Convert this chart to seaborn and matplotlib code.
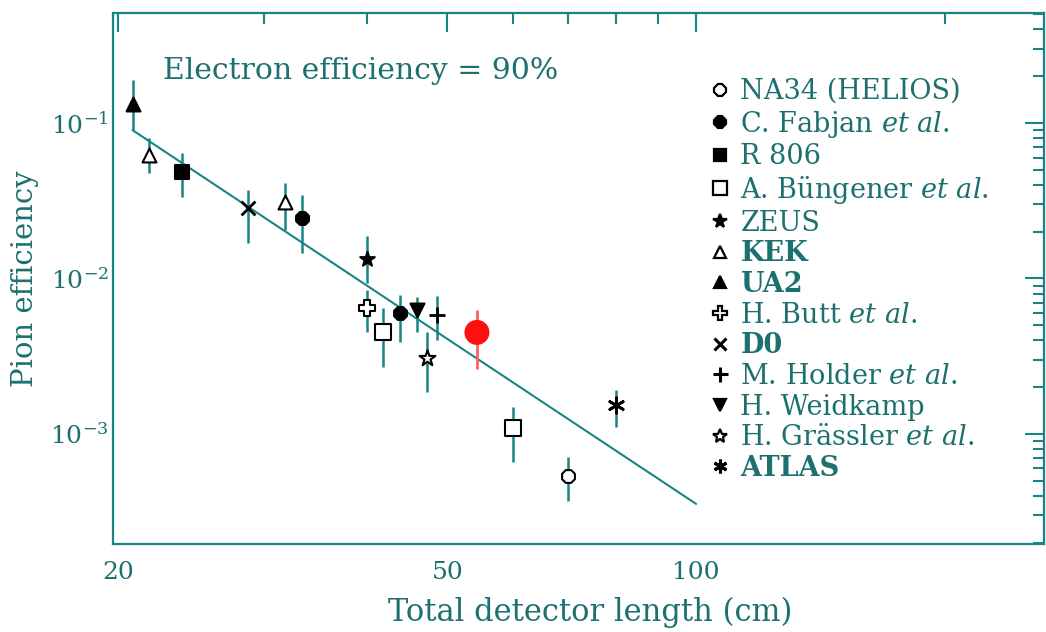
import numpy as np
import pandas as pd
import matplotlib
matplotlib.use("Agg")
import matplotlib.pyplot as plt
import seaborn as sns
from matplotlib.lines import Line2D
from matplotlib.ticker import FixedLocator, FixedFormatter, NullFormatter

# ---------------- data ----------------
experiments = ["NA34 (HELIOS)", "C. Fabjan et al.", "R 806", "A. Büngener et al.",
               "ZEUS", "KEK", "UA2", "H. Butt et al.", "D0", "M. Holder et al.",
               "H. Weidkamp", "H. Grässler et al.", "ATLAS"]

point_exp = ["UA2", "KEK", "R 806", "D0", "KEK", "C. Fabjan et al.", "ZEUS",
             "H. Butt et al.", "A. Büngener et al.", "C. Fabjan et al.", "H. Weidkamp",
             "H. Grässler et al.", "M. Holder et al.", "A. Büngener et al.",
             "NA34 (HELIOS)", "ATLAS"]
length_cm = [20.8, 21.8, 23.9, 28.7, 31.8, 33.4, 40.0, 40.0, 41.8, 43.8, 45.9,
             47.3, 48.6, 60.0, 70.0, 80.0]
pion_eff = [0.132, 0.0623, 0.0484, 0.0284, 0.031, 0.0245, 0.0133, 0.0065, 0.0045,
            0.0060, 0.0063, 0.0031, 0.0058, 0.00109, 0.00054, 0.00154]
eff_low = [0.090, 0.0477, 0.0334, 0.0169, 0.0205, 0.0146, 0.0094, 0.0045, 0.0027,
           0.0039, 0.0045, 0.00186, 0.0040, 0.00066, 0.00037, 0.00111]
eff_high = [0.189, 0.080, 0.0641, 0.0371, 0.0411, 0.0344, 0.0188, 0.0084, 0.0065,
            0.0078, 0.0076, 0.0045, 0.0077, 0.00149, 0.00071, 0.00192]

# highlighted (red) measurement
red_x = [54.3]
red_y = [0.0045]
red_low = [0.0026]
red_high = [0.0063]

# fitted line
fit_x = [20.8, 100.0]
fit_y = [0.090, 0.000355]

x_ticks = [20, 50, 100]
x_ticklabels = ["20", "50", "100"]
y_ticks = [1e-3, 1e-2, 1e-1]
y_ticklabels = [r"$10^{-3}$", r"$10^{-2}$", r"$10^{-1}$"]

legend_labels = ["NA34 (HELIOS)", r"C. Fabjan $\mathit{et\ al.}$", "R 806",
                 r"A. Büngener $\mathit{et\ al.}$", "ZEUS", "KEK", "UA2",
                 r"H. Butt $\mathit{et\ al.}$", "D0", r"M. Holder $\mathit{et\ al.}$",
                 "H. Weidkamp", r"H. Grässler $\mathit{et\ al.}$", "ATLAS"]
bold_labels = {"KEK", "UA2", "D0", "ATLAS"}

# ---------------- styles ----------------
TEAL = "#178585"
TEXT = "#1c7070"
asterisk = (6, 2, 0)
styles = {
    "NA34 (HELIOS)": dict(marker="8", face="white", size=10),
    "C. Fabjan et al.": dict(marker="8", face="black", size=10),
    "R 806": dict(marker="s", face="black", size=10),
    "A. Büngener et al.": dict(marker="s", face="white", size=11),
    "ZEUS": dict(marker="*", face="black", size=11),
    "KEK": dict(marker="^", face="white", size=10),
    "UA2": dict(marker="^", face="black", size=10),
    "H. Butt et al.": dict(marker="P", face="white", size=11),
    "D0": dict(marker="x", face="black", size=10),
    "M. Holder et al.": dict(marker="+", face="black", size=12),
    "H. Weidkamp": dict(marker="v", face="black", size=10),
    "H. Grässler et al.": dict(marker="*", face="white", size=12),
    "ATLAS": dict(marker=asterisk, face="black", size=11),
}

sns.set_theme(style="white")
plt.rcParams["font.family"] = ["DejaVu Serif"]
plt.rcParams["mathtext.fontset"] = "custom"
plt.rcParams["mathtext.rm"] = "DejaVu Serif"
plt.rcParams["mathtext.it"] = "DejaVu Serif:italic"
plt.rcParams["mathtext.bf"] = "DejaVu Serif:bold"

df = pd.DataFrame({"exp": point_exp, "x": length_cm, "y": pion_eff,
                   "lo": eff_low, "hi": eff_high})

fig = plt.figure(figsize=(10.46, 6.32), dpi=100)
ax = fig.add_axes([113 / 1046, 88 / 632, (1044 - 113) / 1046, (544 - 13) / 632])
ax.set_xscale("log")
ax.set_yscale("log")

# fit line
sns.lineplot(x=fit_x, y=fit_y, ax=ax, color=TEAL, lw=1.5, zorder=2)

# error bars
ax.errorbar(df["x"], df["y"], yerr=[df["y"] - df["lo"], df["hi"] - df["y"]],
            fmt="none", ecolor=TEAL, elinewidth=1.8, capsize=0, zorder=3)

# markers
for exp, sub in df.groupby("exp", sort=False):
    st = styles[exp]
    unfilled = st["marker"] in ("x", "+", asterisk)
    kw = dict(marker=st["marker"], s=st["size"] ** 2, linewidth=2.0 if unfilled else 1.5,
              zorder=4)
    if unfilled:
        kw["color"] = "black"
    else:
        kw["facecolor"] = st["face"]
        kw["edgecolor"] = "black"
    sns.scatterplot(data=sub, x="x", y="y", ax=ax, legend=False, **kw)

# red measurement
ax.errorbar(red_x, red_y, yerr=[[red_y[0] - red_low[0]], [red_high[0] - red_y[0]]],
            fmt="none", ecolor="#ff6060", elinewidth=2, capsize=0, zorder=3)
sns.scatterplot(x=red_x, y=red_y, ax=ax, color="#ff1010", s=18 ** 2,
                edgecolor="none", zorder=5, legend=False)

# axes limits & ticks
ax.set_xlim(19.7, 263.6)
ax.set_ylim(1.96e-4, 0.51)
ax.xaxis.set_major_locator(FixedLocator(x_ticks))
ax.xaxis.set_major_formatter(FixedFormatter(x_ticklabels))
ax.xaxis.set_minor_locator(FixedLocator([30, 40, 60, 70, 80, 90, 200]))
ax.xaxis.set_minor_formatter(NullFormatter())
ax.yaxis.set_major_locator(FixedLocator(y_ticks))
ax.yaxis.set_major_formatter(FixedFormatter(y_ticklabels))
yminor = [k * 10.0 ** e for e in (-4, -3, -2, -1) for k in range(2, 10)]
ax.yaxis.set_minor_locator(FixedLocator(yminor))
ax.yaxis.set_minor_formatter(NullFormatter())

ax.tick_params(which="both", direction="in", top=True, right=True, color=TEAL,
               width=1.5, labelcolor=TEXT, labelsize=18)
ax.tick_params(which="major", length=14)
ax.tick_params(which="minor", length=8)
ax.tick_params(axis="x", which="major", pad=12)
ax.tick_params(axis="y", which="major", pad=3)
for sp in ax.spines.values():
    sp.set_color(TEAL)
    sp.set_linewidth(1.6)

ax.set_xlabel("Total detector length (cm)", fontsize=22, color=TEXT, labelpad=9)
ax.xaxis.set_label_coords((590 - 113) / 931, -0.1)
ax.set_ylabel("Pion efficiency", fontsize=21, color=TEXT, labelpad=8)

ax.text(0.054, 0.891, "Electron efficiency = 90%", transform=ax.transAxes,
        fontsize=21.5, color=TEXT, va="center", ha="left")

# legend
handles = []
for exp in experiments:
    st = styles[exp]
    unfilled = st["marker"] in ("x", "+", asterisk)
    handles.append(Line2D([], [], linestyle="none", marker=st["marker"],
                          markersize=st["size"] * 0.9,
                          markerfacecolor="black" if unfilled else st["face"],
                          markeredgecolor="black",
                          markeredgewidth=2.2 if unfilled else 1.6))
leg = ax.legend(handles, legend_labels, loc="upper left",
                bbox_to_anchor=((708 - 113) / 931, (544 - 78) / 531),
                frameon=False, fontsize=19.5, handlelength=0.85, handletextpad=0.35,
                labelspacing=0.135, borderpad=0, borderaxespad=0)
for t, lab in zip(leg.get_texts(), experiments):
    t.set_color(TEXT)
    if lab in bold_labels:
        t.set_fontweight("bold")

fig.savefig("out.png", dpi=100)
